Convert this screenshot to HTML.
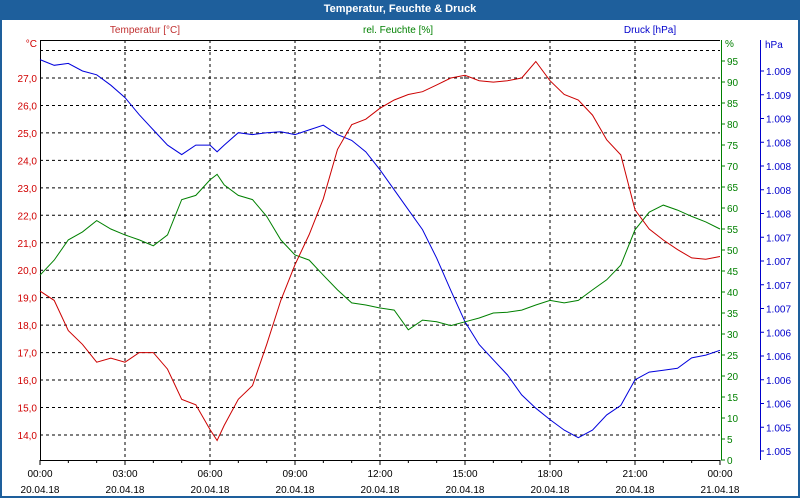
<!DOCTYPE html>
<html><head><meta charset="utf-8"><style>
body{margin:0;width:800px;height:500px;overflow:hidden;background:#fff;font-family:"Liberation Sans",sans-serif}
#frame{position:absolute;left:0;top:0;width:796px;height:496px;border:2px solid #1e5f9c;border-top:none}
#title{position:absolute;left:0;top:0;width:800px;height:20px;background:#1e5f9c;color:#fff;font-weight:bold;font-size:11px;line-height:19px;text-align:center}
svg{position:absolute;left:0;top:0}
text{font-family:"Liberation Sans",sans-serif;font-size:10px}
</style></head><body>
<div id="frame"></div>
<div id="title">Temperatur, Feuchte &amp; Druck</div>
<svg id="chart" width="800" height="500"></svg>
<script>
const hours=[0,0.5,1,1.5,2,2.5,3,3.5,4,4.5,5,5.5,6,6.25,6.5,7,7.5,8,8.5,9,9.5,10,10.5,11,11.5,12,12.5,13,13.5,14,14.5,15,15.5,16,16.5,17,17.5,18,18.5,19,19.5,20,20.5,21,21.5,22,22.5,23,23.5,24];
const temperature=[19.24,18.9,17.8,17.3,16.65,16.8,16.65,17.0,17.0,16.4,15.3,15.1,14.2,13.8,14.35,15.3,15.8,17.3,18.9,20.2,21.3,22.6,24.4,25.3,25.5,25.9,26.2,26.4,26.5,26.75,27.0,27.1,26.9,26.85,26.9,27.0,27.6,26.9,26.4,26.2,25.65,24.75,24.2,22.2,21.5,21.1,20.75,20.45,20.4,20.5];
const humidity=[44,47.6,52.4,54.3,57,55,53.6,52.4,51,53.6,62,63,66.7,68,65.5,63,62,58,52.4,48.8,47.6,44,40.5,37.4,36.9,36.2,35.7,31,33.3,32.9,32,32.9,33.8,35,35.2,35.7,36.9,38,37.4,38,40.5,42.9,46.4,54.8,59,60.7,59.5,58,56.7,55];
const pressure=[1009.12,1009.06,1009.08,1009.0,1008.96,1008.85,1008.72,1008.54,1008.38,1008.22,1008.12,1008.22,1008.22,1008.15,1008.22,1008.35,1008.33,1008.35,1008.36,1008.33,1008.38,1008.43,1008.33,1008.27,1008.15,1007.96,1007.75,1007.54,1007.33,1007.03,1006.69,1006.36,1006.12,1005.96,1005.8,1005.59,1005.45,1005.33,1005.22,1005.14,1005.22,1005.38,1005.48,1005.75,1005.83,1005.85,1005.87,1005.98,1006.01,1006.06];
const tempTicks=[14,15,16,17,18,19,20,21,22,23,24,25,26,27];
const humTicks=[0,5,10,15,20,25,30,35,40,45,50,55,60,65,70,75,80,85,90,95];
const presTickValues=[1005,1005.25,1005.5,1005.75,1006,1006.25,1006.5,1006.75,1007,1007.25,1007.5,1007.75,1008,1008.25,1008.5,1008.75,1009];
const presTickLabels=["1.005","1.005","1.006","1.006","1.006","1.006","1.007","1.007","1.007","1.007","1.008","1.008","1.008","1.008","1.009","1.009","1.009"];
const timeLabels=["00:00","03:00","06:00","09:00","12:00","15:00","18:00","21:00","00:00"];
const dateLabels=["20.04.18","20.04.18","20.04.18","20.04.18","20.04.18","20.04.18","20.04.18","20.04.18","21.04.18"];

const L=40,R=720,T=40,B=460;
const x=h=>L+(h/24)*(R-L);
const yT=t=>78-(t-27)*27.46;
const yH=v=>B-v*4.2;
const yP=p=>451-(p-1005)*95;
const svg=document.getElementById('chart');
const NS='http://www.w3.org/2000/svg';
function mk(tag,attrs,txt){const e=document.createElementNS(NS,tag);for(const k in attrs)e.setAttribute(k,attrs[k]);if(txt!==undefined)e.textContent=txt;svg.appendChild(e);return e;}

// grid horizontal (temperature incl. 28)
[...tempTicks,28].forEach(t=>{const e=mk('line',{x1:L,x2:R,y1:yT(t),y2:yT(t),stroke:'#000','stroke-dasharray':'3,3','stroke-width':1});

});
for(let i=1;i<8;i++){const e=mk('line',{x1:x(i*3),x2:x(i*3),y1:T,y2:B,stroke:'#000','stroke-dasharray':'3,3'});

}
// frame axes
let a=mk('line',{x1:L,x2:R,y1:T+0.5,y2:T+0.5,stroke:'#000'});
a=mk('line',{x1:L+0.5,x2:L+0.5,y1:T,y2:B,stroke:'#000'});
a=mk('line',{x1:L,x2:R,y1:B+0.5,y2:B+0.5,stroke:'#000'});
a=mk('line',{x1:R+1.5,x2:R+1.5,y1:T,y2:B,stroke:'#008000'});
a=mk('line',{x1:760.5,x2:760.5,y1:T,y2:B,stroke:'#0000cc'});

// x ticks
for(let i=0;i<=24;i++){const e=mk('line',{x1:x(i),x2:x(i),y1:B,y2:B+(i%3?3:5),stroke:'#000'});

}
timeLabels.forEach((s,i)=>{const e=mk('text',{x:x(i*3),y:477,'text-anchor':'middle',fill:'#000'},s);

});
dateLabels.forEach((s,i)=>{const e=mk('text',{x:x(i*3),y:493,'text-anchor':'middle',fill:'#000'},s);

});
// temp labels
tempTicks.forEach(t=>{const e=mk('text',{x:37,y:yT(t)+4,'text-anchor':'end',fill:'#d00000'},t.toFixed(1).replace('.',','));

});
// humidity
humTicks.forEach(v=>{const t=mk('line',{x1:R+1,x2:R+5,y1:yH(v),y2:yH(v),stroke:'#008000'});


const e=mk('text',{x:R+7,y:yH(v)+4,fill:'#008000'},String(v));

});
// pressure
presTickValues.forEach((p,i)=>{const t=mk('line',{x1:760,x2:764,y1:yP(p),y2:yP(p),stroke:'#0000cc'});


const e=mk('text',{x:766,y:yP(p)+4,fill:'#0000cc'},presTickLabels[i]);

});
// unit + series labels
[['°C',37,47,'end','#d00000','temperature-unit'],['%',725,47,'start','#008000','humidity-unit'],['hPa',765,48,'start','#0000cc','pressure-unit'],
 ['Temperatur [°C]',145,33,'middle','#c03030','temperature-series-label'],['rel. Feuchte [%]',398,33,'middle','#008000','humidity-series-label'],['Druck [hPa]',650,33,'middle','#0000cc','pressure-series-label']].forEach(d=>{
 const e=mk('text',{x:d[1],y:d[2],'text-anchor':d[3],fill:d[4]},d[0]);
 
 });
// series
function line(vals,fy,color,name){const pts=vals.map((v,i)=>x(hours[i]).toFixed(1)+','+fy(v).toFixed(1)).join(' ');
const e=mk('polyline',{points:pts,fill:'none',stroke:color,'stroke-width':1});

}
line(pressure,yP,'#0000dd','pressure-line');
line(humidity,yH,'#008000','humidity-line');
line(temperature,yT,'#cc0000','temperature-line');
</script>
</body></html>
